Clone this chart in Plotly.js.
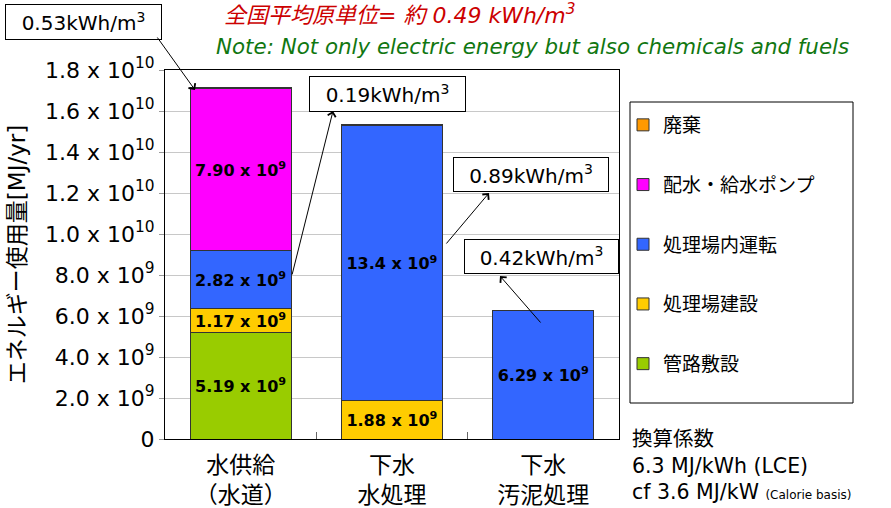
<!DOCTYPE html>
<html>
<head>
<meta charset="utf-8">
<script src="https://cdn.plot.ly/plotly-3.0.1.min.js"></script>
<style>
  html, body { margin: 0; padding: 0; background: #fff; }
  #chart { width: 891px; height: 508px; }
</style>
</head>
<body>
<div id="chart"></div>
<script>
// Energy use by stage of the water cycle [MJ/yr]
const categories = ['水供給<br>（水道）', '下水<br>水処理', '下水<br>汚泥処理'];
const seriesNames = ['管路敷設', '処理場建設', '処理場内運転', '配水・給水ポンプ', '廃棄'];
const pipeLaying        = [5.19e9, null, null];
const plantConstruction = [1.17e9, 1.88e9, null];
const plantOperation    = [2.82e9, 13.4e9, 6.29e9];
const distributionPumps = [7.90e9, null, null];
const disposal          = [0.05e9, 0.06e9, null];
const showValueLabels   = [true, true, true, true, false];

const yTickValues = [0, 2e9, 4e9, 6e9, 8e9, 1.0e10, 1.2e10, 1.4e10, 1.6e10, 1.8e10];
const yTickLabels = ['0', '2.0 x 10<sup>9</sup>', '4.0 x 10<sup>9</sup>', '6.0 x 10<sup>9</sup>',
  '8.0 x 10<sup>9</sup>', '1.0 x 10<sup>10</sup>', '1.2 x 10<sup>10</sup>', '1.4 x 10<sup>10</sup>',
  '1.6 x 10<sup>10</sup>', '1.8 x 10<sup>10</sup>'];

const intensityLabels = ['0.53kWh/m<sup>3</sup>', '0.19kWh/m<sup>3</sup>',
  '0.89kWh/m<sup>3</sup>', '0.42kWh/m<sup>3</sup>'];
const headline = '全国平均原単位= 約 0.49 kWh/m<sup>3</sup>';
const note = 'Note: Not only electric energy but also chemicals and fuels';
const conversionNote = '換算係数<br>6.3 MJ/kWh (LCE)<br>cf 3.6 MJ/kW <span style="font-size:12px">(Calorie basis)</span>';

const seriesValues = [pipeLaying, plantConstruction, plantOperation, distributionPumps, disposal];
const seriesColors = ['#99CC00', '#FFCC00', '#3366FF', '#FF00FF', '#FF9900'];

const FONT = 'DejaVu Sans, Verdana, "Noto Sans CJK JP", sans-serif';

// plot area in page pixels
const W = 891, H = 508;
const M = { l: 165, r: 272, t: 70, b: 69 };
const plotW = W - M.l - M.r, plotH = H - M.t - M.b;
const px = x => (x - M.l) / plotW;
const py = y => (H - M.b - y) / plotH;

const fmt = v => (v / 1e9).toPrecision(3) + ' x 10<sup>9</sup>';

const traces = seriesValues.map((vals, i) => ({
  type: 'bar',
  name: seriesNames[i],
  legendgroup: 'g' + i,
  legendrank: 100 - i,
  x: categories,
  y: vals,
  marker: { color: seriesColors[i], line: { color: '#333', width: 1 } },
  text: vals.map(v => (showValueLabels[i] && v) ? fmt(v) : ''),
  textposition: 'inside',
  insidetextanchor: 'middle',
  constraintext: 'none',
  textfont: { family: FONT, size: 16, color: '#000', weight: 'bold' },
  hoverinfo: 'name+y'
}));

// boxed intensity labels [left, top, right, bottom] in page px
const boxes = [[5, 4, 162, 40], [309, 76, 466, 112], [453, 157, 609, 192], [464, 239, 619, 274]];
// arrows: head (hx, hy) and tail (tx, ty) in page px
const arrows = [
  { hx: 195, hy: 90,  tx: 157, ty: 37 },
  { hx: 333, hy: 111, tx: 292, ty: 275 },
  { hx: 489, hy: 193, tx: 446, ty: 244 },
  { hx: 500, hy: 276, tx: 541, ty: 323 }
];

const annotations = [];
boxes.forEach((b, i) => {
  annotations.push({
    xref: 'paper', yref: 'paper', x: px(b[0]), y: py(b[1]),
    xanchor: 'left', yanchor: 'top',
    width: b[2] - b[0] - 6, height: b[3] - b[1] - 6,
    text: intensityLabels[i], showarrow: false,
    font: { family: FONT, size: 20, color: '#000' },
    bgcolor: '#fff', bordercolor: '#000', borderwidth: 1, borderpad: 2, align: 'center'
  });
});
arrows.forEach(a => {
  annotations.push({
    xref: 'paper', yref: 'paper', x: px(a.hx), y: py(a.hy),
    axref: 'pixel', ayref: 'pixel', ax: a.tx - a.hx, ay: a.ty - a.hy,
    text: '', showarrow: true, arrowhead: 4, arrowsize: 1.6, arrowwidth: 1,
    arrowcolor: '#000', standoff: 0, startstandoff: 0, borderpad: 0
  });
});
annotations.push({
  xref: 'paper', yref: 'paper', x: px(222), y: py(14), xanchor: 'left', yanchor: 'middle',
  text: '<i>' + headline + '</i>', showarrow: false,
  font: { family: FONT, size: 22, color: '#CC0000' }
});
annotations.push({
  xref: 'paper', yref: 'paper', x: px(214), y: py(46), xanchor: 'left', yanchor: 'middle',
  text: '<i>' + note + '</i>', showarrow: false,
  font: { family: FONT, size: 21.4, color: '#117711' }
});
annotations.push({
  xref: 'paper', yref: 'paper', x: px(630), y: py(465), xanchor: 'left', yanchor: 'middle',
  text: conversionNote, showarrow: false, align: 'left',
  font: { family: FONT, size: 20.5, color: '#000' }
});

const layout = {
  width: W, height: H,
  margin: M,
  paper_bgcolor: '#fff', plot_bgcolor: '#fff',
  barmode: 'stack', bargap: 0.333,
  font: { family: FONT, color: '#000' },
  showlegend: true,
  legend: {
    x: px(623), y: py(106), xanchor: 'left', yanchor: 'top',
    orientation: 'v', traceorder: 'grouped', tracegroupgap: 32,
    bgcolor: 'rgba(0,0,0,0)', borderwidth: 0,
    font: { family: FONT, size: 19, color: '#000' }
  },
  xaxis: {
    type: 'category', showgrid: false, showline: true, linecolor: '#000', linewidth: 1, mirror: true,
    ticks: 'inside', tickson: 'boundaries', ticklen: 7, tickcolor: '#666',
    ticklabelstandoff: 5,
    tickfont: { family: FONT, size: 23, color: '#000' }, fixedrange: true
  },
  yaxis: {
    range: [0, 1.8e10], tickvals: yTickValues, ticktext: yTickLabels,
    ticks: 'outside', ticklen: 5, tickcolor: '#999',
    showgrid: true, gridcolor: '#c8c8c8', gridwidth: 1, zeroline: false,
    showline: true, linecolor: '#000', linewidth: 1, mirror: true,
    tickfont: { family: FONT, size: 22, color: '#000' },
    title: { text: 'エネルギー使用量[MJ/yr]', font: { family: FONT, size: 23, color: '#000' }, standoff: 12 },
    automargin: false, fixedrange: true
  },
  shapes: [{
    type: 'rect', xref: 'paper', yref: 'paper',
    x0: px(630), x1: px(853), y0: py(403), y1: py(102),
    line: { color: '#000', width: 1 }, fillcolor: 'rgba(0,0,0,0)'
  }],
  annotations: annotations
};

Plotly.newPlot('chart', traces, layout, { staticPlot: true, displayModeBar: false });
</script>
</body>
</html>
